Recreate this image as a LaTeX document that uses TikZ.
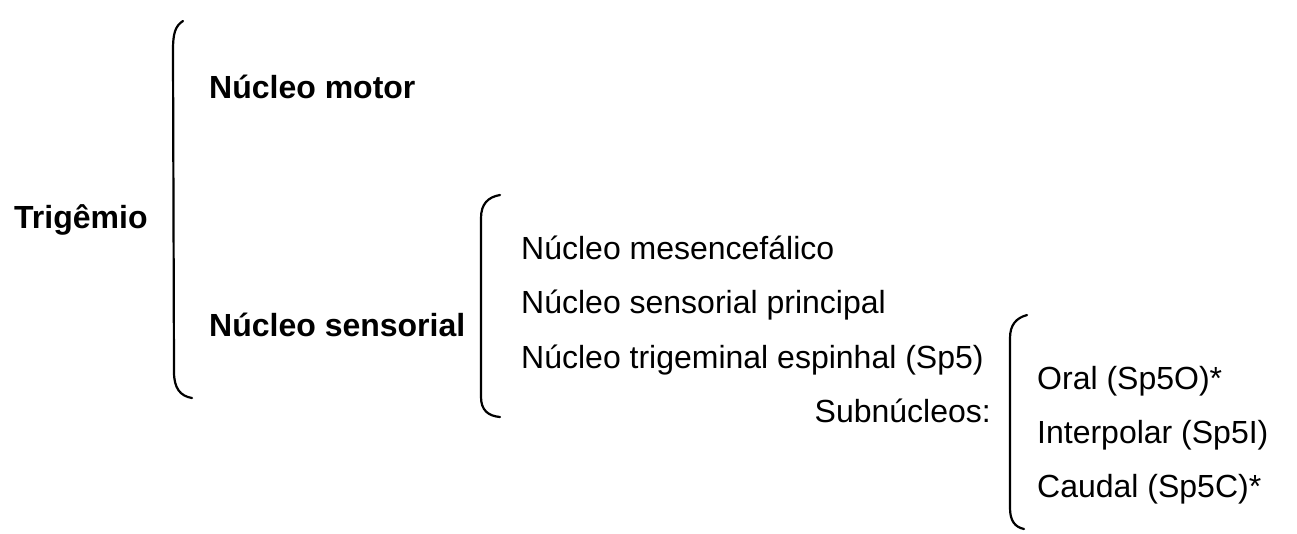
\documentclass[tikz,border=0pt]{standalone}
\usepackage{fontspec}
\setmainfont{Liberation Sans}
\begin{document}
\begin{tikzpicture}[x=1pt,y=-1pt,
  txt/.style={anchor=base west, inner sep=0pt, font=\fontsize{32}{38}\selectfont},
  btxt/.style={txt, font=\fontsize{32}{38}\selectfont\bfseries},
  brk/.style={line width=2.2pt, line cap=round, line join=round}]
\useasboundingbox (0,0) rectangle (1297,533);
% texts
\node[btxt] (trig) at (14,228) {Trigêmio};
\node[btxt] (motor) at (209,98) {Núcleo motor};
\node[btxt] (sens) at (209,336) {Núcleo sensorial};
\node[txt] (mes) at (521,259) {Núcleo mesencefálico};
\node[txt] (princ) at (521,313) {Núcleo sensorial principal};
\node[txt] (esp) at (521,368) {Núcleo trigeminal espinhal (Sp5)};
\node[txt, anchor=base east] (sub) at (991,422) {Subnúcleos:};
\node[txt] (oral) at (1037,389) {Oral (Sp5O)*};
\node[txt] (inter) at (1037,443) {Interpolar (Sp5I)};
\node[txt] (caud) at (1037,497) {Caudal (Sp5C)*};
% brackets
\draw[brk] (183,21) .. controls (175,26) and (173,34) .. (173,50)
  -- (174,372) .. controls (174,388) and (180,396) .. (192,398);
\draw[brk] (500,195) .. controls (488,197) and (481,204) .. (481,218)
  -- (481,397) .. controls (481,410) and (488,416) .. (500,417);
\draw[brk] (1027,315) .. controls (1016,318) and (1010,325) .. (1010,338)
  -- (1010,508) .. controls (1010,521) and (1015,527) .. (1024,529);
\end{tikzpicture}
\end{document}
